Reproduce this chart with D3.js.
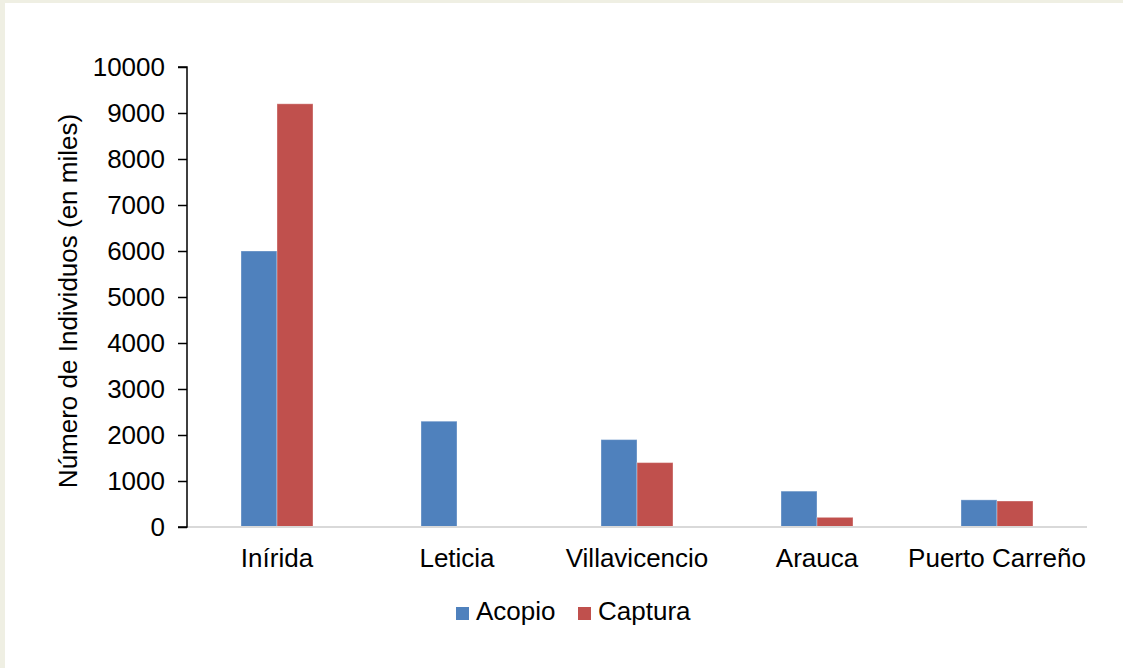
<!DOCTYPE html>
<html>
<head>
<meta charset="utf-8">
<script src="https://cdn.jsdelivr.net/npm/d3@7"></script>
<style>
  html, body { margin: 0; padding: 0; background: #efefe3; }
  svg { display: block; }
  text { font-family: "Liberation Sans", Arial, sans-serif; fill: #000; }
</style>
</head>
<body>
<svg id="chart" width="1123" height="668"></svg>
<script>
// Chart data
const categories = ["Inírida", "Leticia", "Villavicencio", "Arauca", "Puerto Carreño"];
const seriesNames = ["Acopio", "Captura"];
const acopio = [6000, 2300, 1900, 780, 590];
const captura = [9200, 0, 1400, 210, 565];
const yTicks = [0, 1000, 2000, 3000, 4000, 5000, 6000, 7000, 8000, 9000, 10000];
const seriesColors = ["#4f81bd", "#c0504d"];
const yTitle = "Número de Individuos (en miles)";

const values = [acopio, captura];

const svg = d3.select("#chart");

// white chart area
svg.append("rect")
  .attr("x", 5).attr("y", 3)
  .attr("width", 1118).attr("height", 665)
  .attr("fill", "#ffffff");

const plot = { left: 187, right: 1087, top: 67, bottom: 527 };

const x0 = d3.scaleBand()
  .domain(categories)
  .range([plot.left, plot.right])
  .padding(0);

const groupWidth = x0.bandwidth() * 0.4;
const x1 = d3.scaleBand()
  .domain(seriesNames)
  .range([(x0.bandwidth() - groupWidth) / 2, (x0.bandwidth() + groupWidth) / 2])
  .padding(0);

const y = d3.scaleLinear()
  .domain([0, 10000])
  .range([plot.bottom, plot.top]);

// bars
const groups = svg.append("g")
  .selectAll("g")
  .data(categories)
  .join("g")
  .attr("transform", d => `translate(${x0(d)},0)`);

groups.selectAll("rect")
  .data((d, i) => seriesNames.map((s, j) => ({ s, j, v: values[j][i] })))
  .join("rect")
  .filter(d => d.v > 0)
  .attr("x", d => x1(d.s))
  .attr("y", d => y(d.v))
  .attr("width", x1.bandwidth())
  .attr("height", d => y(0) - y(d.v))
  .attr("fill", d => seriesColors[d.j])
  .attr("stroke", "#ffffff")
  .attr("stroke-opacity", 0.35)
  .attr("stroke-width", 1);

// x axis baseline
svg.append("line")
  .attr("x1", plot.left).attr("x2", plot.right)
  .attr("y1", y(0)).attr("y2", y(0))
  .attr("stroke", "#d9d9d9")
  .attr("stroke-width", 2);

// category labels
svg.append("g")
  .selectAll("text")
  .data(categories)
  .join("text")
  .attr("x", d => x0(d) + x0.bandwidth() / 2)
  .attr("y", 567)
  .attr("text-anchor", "middle")
  .attr("font-size", 26)
  .text(d => d);

// y axis
const yAxis = d3.axisLeft(y)
  .tickValues(yTicks)
  .tickFormat(d3.format("d"))
  .tickSize(9)
  .tickPadding(13);

const yg = svg.append("g")
  .attr("transform", `translate(${plot.left},0)`)
  .call(yAxis);
yg.select(".domain").attr("stroke", "#000").attr("stroke-width", 1.5)
  .attr("d", `M-9,${y(10000)}H0V${y(0)}H-9`);
yg.selectAll(".tick line").attr("stroke", "#000").attr("stroke-width", 1.5);
yg.selectAll(".tick text")
  .attr("font-size", 26)
  .attr("font-family", "Liberation Sans, Arial, sans-serif")
  .attr("fill", "#000");

// y axis title
svg.append("text")
  .attr("transform", `translate(77,${(plot.top + plot.bottom) / 2 + 4}) rotate(-90)`)
  .attr("text-anchor", "middle")
  .attr("font-size", 26)
  .text(yTitle);

// legend
const legendItems = [
  { name: seriesNames[0], color: seriesColors[0], x: 456 },
  { name: seriesNames[1], color: seriesColors[1], x: 578 }
];
const lg = svg.append("g");
legendItems.forEach(it => {
  lg.append("rect")
    .attr("x", it.x).attr("y", 607)
    .attr("width", 13).attr("height", 13)
    .attr("fill", it.color);
  lg.append("text")
    .attr("x", it.x + 20).attr("y", 620)
    .attr("font-size", 26)
    .text(it.name);
});
</script>
</body>
</html>
